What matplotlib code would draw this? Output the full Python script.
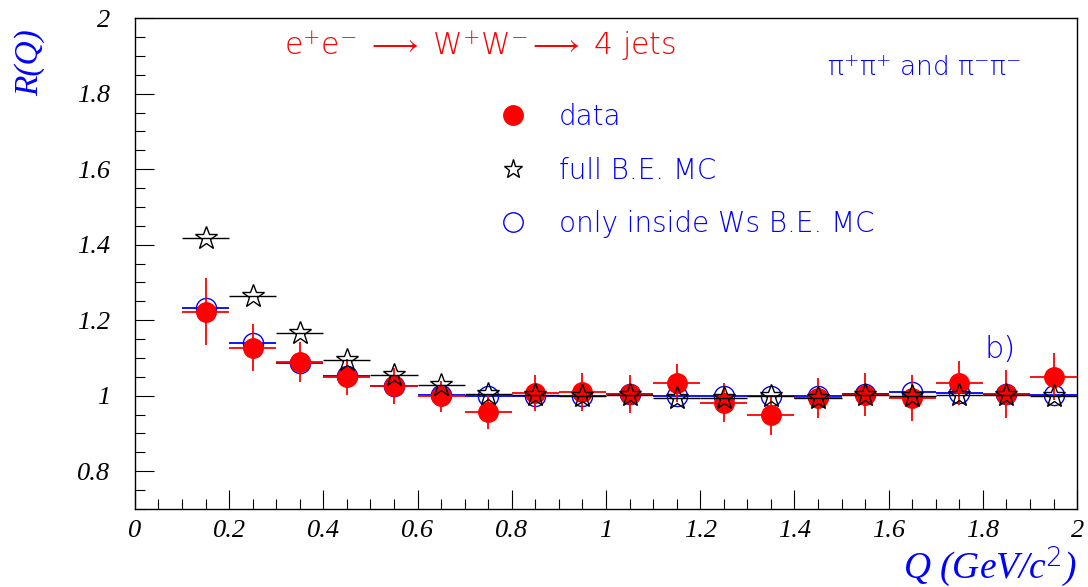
import matplotlib
matplotlib.use("Agg")
import matplotlib.pyplot as plt
from matplotlib import ticker
from matplotlib.lines import Line2D

# bin centres in Q (GeV/c^2), half-width 0.05
q = [0.15, 0.25, 0.35, 0.45, 0.55, 0.65, 0.75, 0.85, 0.95, 1.05,
     1.15, 1.25, 1.35, 1.45, 1.55, 1.65, 1.75, 1.85, 1.95]
q_err = [0.05] * len(q)

# data (red filled circles)
r_data = [1.223, 1.127, 1.089, 1.050, 1.025, 0.998, 0.958, 1.007, 1.009, 1.005,
          1.034, 0.981, 0.948, 0.994, 1.003, 0.994, 1.034, 1.005, 1.050]
r_data_err = [0.090, 0.062, 0.053, 0.048, 0.048, 0.040, 0.045, 0.047, 0.050, 0.050,
              0.050, 0.052, 0.052, 0.053, 0.056, 0.060, 0.058, 0.063, 0.062]

# full B.E. MC (black stars)
r_full = [1.418, 1.263, 1.166, 1.095, 1.056, 1.027, 1.005, 1.003, 1.000, 1.002,
          0.994, 0.994, 0.998, 0.994, 1.003, 1.000, 1.003, 1.003, 0.998]

# only inside Ws B.E. MC (blue open circles)
r_inside = [1.232, 1.140, 1.087, 1.051, 1.026, 1.003, 0.998, 1.000, 0.998, 1.005,
            0.998, 0.998, 0.998, 0.998, 1.004, 1.011, 1.007, 1.004, 1.003]

serif = ['Liberation Serif', 'DejaVu Serif']
sans = ['DejaVu Sans']

plt.rcParams['mathtext.fontset'] = 'custom'
plt.rcParams['mathtext.rm'] = 'DejaVu Sans:light'
plt.rcParams['mathtext.it'] = 'Liberation Serif:italic'
plt.rcParams['mathtext.fallback'] = 'stix'

fig = plt.figure(figsize=(10.88, 5.87), dpi=100)
ax = fig.add_axes([0.124, 0.133, 0.866, 0.836])

ax.errorbar(q, r_inside, xerr=q_err, fmt='o', color='blue', mfc='none', mec='blue',
            ms=14.5, mew=1.0, elinewidth=1.3, capsize=0, zorder=3)
ax.errorbar(q, r_data, xerr=q_err, yerr=r_data_err, fmt='o', color='red', mfc='red', mec='red',
            ms=14, elinewidth=1.3, capsize=0, zorder=4)
ax.errorbar(q, r_full, xerr=q_err, fmt='*', color='black', mfc='none', mec='black',
            ms=17, mew=1.0, elinewidth=1.0, capsize=0, zorder=5)

ax.set_xlim(0, 2)
ax.set_ylim(0.7, 2.0)
ax.xaxis.set_major_locator(ticker.MultipleLocator(0.2))
ax.xaxis.set_minor_locator(ticker.MultipleLocator(0.05))
ax.yaxis.set_major_locator(ticker.FixedLocator([0.8, 1.0, 1.2, 1.4, 1.6, 1.8, 2.0]))
ax.yaxis.set_minor_locator(ticker.MultipleLocator(0.05))
ax.xaxis.set_major_formatter(ticker.FormatStrFormatter('%g'))
ax.yaxis.set_major_formatter(ticker.FormatStrFormatter('%g'))
ax.tick_params(which='both', direction='in', top=False, right=False, width=0.8)
ax.tick_params(which='major', length=14)
ax.tick_params(which='minor', length=7)
ax.tick_params(axis='y', which='major', pad=18)
ax.tick_params(axis='x', which='major', pad=8)
for lab in ax.get_xticklabels() + ax.get_yticklabels():
    lab.set_fontfamily(serif)
    lab.set_fontstyle('italic')
    lab.set_fontsize(19)
for sp in ax.spines.values():
    sp.set_linewidth(1.0)

ax.set_ylabel('R(Q)', color='blue', fontsize=24, family=serif, style='italic')
ax.yaxis.set_label_coords(-0.095, 0.91)
ax.set_xlabel(r'Q (GeV/c$^{\mathit{2}}$)', color='blue', fontsize=27, family=serif, style='italic',
              loc='right', va='top')
ax.xaxis.set_label_coords(1.0, -0.072)

ax.text(0.366, 0.943, r'e$^{+}$e$^{-}$ $\longrightarrow$ W$^{+}$W$^{-}$$\longrightarrow$ 4 jets',
        transform=ax.transAxes, color='red',
        fontsize=21.5, family=sans, fontweight='light', ha='center', va='center')
ax.text(0.838, 0.898, r'$\mathrm{\pi}^{+}\mathrm{\pi}^{+}$ and $\mathrm{\pi}^{-}\mathrm{\pi}^{-}$',
        transform=ax.transAxes, color='blue',
        fontsize=19, family=sans, fontweight='light', ha='center', va='center')
ax.text(0.918, 0.324, 'b)', transform=ax.transAxes, color='blue',
        fontsize=22, family=sans, fontweight='light', ha='center', va='center')

handles = [Line2D([], [], ls='none', marker='o', color='red', ms=14),
           Line2D([], [], ls='none', marker='*', mfc='none', mec='black', ms=14, mew=1.0),
           Line2D([], [], ls='none', marker='o', mfc='none', mec='blue', ms=14, mew=1.0)]
labels = ['data', 'full B.E. MC', 'only inside Ws B.E. MC']
leg = ax.legend(handles, labels, loc='upper left', bbox_to_anchor=(0.388, 0.827),
                frameon=False, labelcolor='blue', borderpad=0, borderaxespad=0,
                handlelength=0.9, handletextpad=1.2, labelspacing=0.92,
                prop={'family': sans, 'size': 20, 'weight': 'light'})

fig.savefig('out.png', dpi=100)
